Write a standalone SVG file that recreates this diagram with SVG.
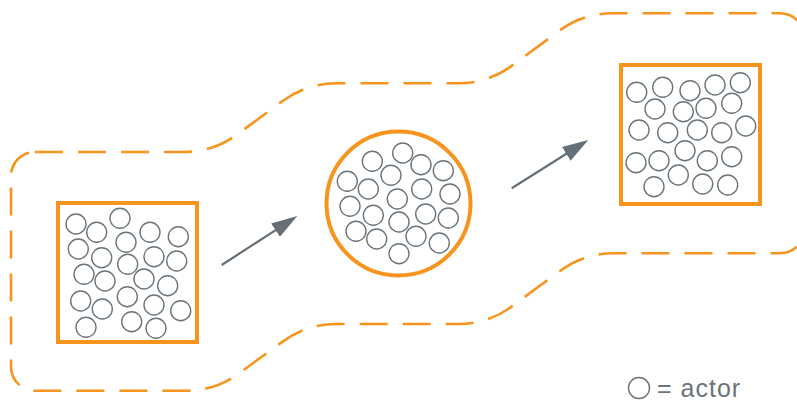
<svg xmlns="http://www.w3.org/2000/svg" width="797" height="401" viewBox="0 0 797 401">
<style>
.bound{fill:none;stroke:#F7941D;stroke-width:2.6;stroke-dasharray:28 15;stroke-linecap:butt}
.box{fill:#fff;stroke:#F7941D;stroke-width:4}
.a{fill:none;stroke:#6A747B;stroke-width:1.4}
.arrow{fill:none;stroke:#646F77;stroke-width:2.2;marker-end:url(#head)}
.lbl{font-family:"Liberation Sans",Arial,sans-serif;font-size:25px;letter-spacing:1px;fill:#6A747B}
</style>
<defs>
<marker id="head" markerUnits="userSpaceOnUse" markerWidth="26" markerHeight="16" viewBox="0 0 26 16" refX="2" refY="8" orient="auto">
<path d="M0,0 L26,8 L0,16 Z" fill="#646F77"/>
</marker>
</defs>
<g id="boundary">
<path class="bound" d="M35,152 H183.6 Q213.6,152 237.7,134.1 L282.3,101.2 Q306.4,83.3 336.4,83.3 H458.2 Q488.2,83.3 512.3,65.4 L558.7,31.2 Q582.8,13.3 612.8,13.3 H780 A25,25 0 0 1 805,38.3 V228.3 A25,25 0 0 1 780,253.3 H613.8 Q583.8,253.3 559.7,271.2 L512.3,306.1 Q488.2,324 458.2,324 H336.3 Q306.3,324 282.2,341.9 L239.8,372.8 Q215.7,390.7 185.7,390.7 H35 A24,24 0 0 1 11,366.7 V176 A24,24 0 0 1 35,152 Z"/>
</g>
<g id="connectors">
<line class="arrow" x1="221.7" y1="265" x2="277.2" y2="229.1"/>
<line class="arrow" x1="511.7" y1="188.3" x2="568" y2="152.8"/>
</g>
<g id="initial-group">
<rect class="box" x="58" y="203" width="139" height="139"/>
<circle class="a" cx="76" cy="224" r="10"/>
<circle class="a" cx="120" cy="218.3" r="10"/>
<circle class="a" cx="96.7" cy="232.3" r="10"/>
<circle class="a" cx="150" cy="232.3" r="10"/>
<circle class="a" cx="178.3" cy="236.7" r="10"/>
<circle class="a" cx="78.3" cy="249" r="10"/>
<circle class="a" cx="126" cy="242.3" r="10"/>
<circle class="a" cx="101.7" cy="257.7" r="10"/>
<circle class="a" cx="154" cy="256.7" r="10"/>
<circle class="a" cx="176.7" cy="261" r="10"/>
<circle class="a" cx="127.7" cy="264.3" r="10"/>
<circle class="a" cx="84" cy="274.3" r="10"/>
<circle class="a" cx="105" cy="281" r="10"/>
<circle class="a" cx="144" cy="279" r="10"/>
<circle class="a" cx="167.7" cy="285.7" r="10"/>
<circle class="a" cx="127.3" cy="296.7" r="10"/>
<circle class="a" cx="80.7" cy="301" r="10"/>
<circle class="a" cx="102.3" cy="309" r="10"/>
<circle class="a" cx="154" cy="305" r="10"/>
<circle class="a" cx="180.7" cy="310.7" r="10"/>
<circle class="a" cx="86" cy="327.3" r="10"/>
<circle class="a" cx="131.7" cy="321.7" r="10"/>
<circle class="a" cx="156" cy="328.3" r="10"/>
</g>
<g id="clustered-group">
<circle class="box" cx="398.5" cy="203.5" r="72"/>
<circle class="a" cx="402.7" cy="153" r="10"/>
<circle class="a" cx="372.3" cy="161.3" r="10"/>
<circle class="a" cx="421" cy="164.7" r="10"/>
<circle class="a" cx="391" cy="175.3" r="10"/>
<circle class="a" cx="443.3" cy="170.7" r="10"/>
<circle class="a" cx="347.3" cy="181.3" r="10"/>
<circle class="a" cx="368.3" cy="189" r="10"/>
<circle class="a" cx="421.7" cy="189" r="10"/>
<circle class="a" cx="450" cy="194" r="10"/>
<circle class="a" cx="397.3" cy="199" r="10"/>
<circle class="a" cx="350" cy="206.3" r="10"/>
<circle class="a" cx="373.3" cy="215.3" r="10"/>
<circle class="a" cx="425.7" cy="214" r="10"/>
<circle class="a" cx="448.3" cy="218" r="10"/>
<circle class="a" cx="399" cy="222" r="10"/>
<circle class="a" cx="356" cy="231.3" r="10"/>
<circle class="a" cx="376.7" cy="239" r="10"/>
<circle class="a" cx="416" cy="236.3" r="10"/>
<circle class="a" cx="439.3" cy="243" r="10"/>
<circle class="a" cx="399" cy="253.7" r="10"/>
</g>
<g id="final-group">
<rect class="box" x="621" y="65" width="139" height="139"/>
<circle class="a" cx="636.7" cy="92.3" r="10"/>
<circle class="a" cx="662.7" cy="87.3" r="10"/>
<circle class="a" cx="690" cy="90.7" r="10"/>
<circle class="a" cx="715" cy="85" r="10"/>
<circle class="a" cx="740.3" cy="82.7" r="10"/>
<circle class="a" cx="655" cy="109" r="10"/>
<circle class="a" cx="683.3" cy="111.7" r="10"/>
<circle class="a" cx="706" cy="108.3" r="10"/>
<circle class="a" cx="731.7" cy="103.3" r="10"/>
<circle class="a" cx="639" cy="130" r="10"/>
<circle class="a" cx="667.7" cy="132.7" r="10"/>
<circle class="a" cx="697.3" cy="130" r="10"/>
<circle class="a" cx="721.7" cy="132.7" r="10"/>
<circle class="a" cx="745.7" cy="126" r="10"/>
<circle class="a" cx="685" cy="150.7" r="10"/>
<circle class="a" cx="636" cy="162.7" r="10"/>
<circle class="a" cx="659" cy="160.7" r="10"/>
<circle class="a" cx="707.3" cy="160.7" r="10"/>
<circle class="a" cx="731.7" cy="156.7" r="10"/>
<circle class="a" cx="678.3" cy="175" r="10"/>
<circle class="a" cx="654" cy="186.7" r="10"/>
<circle class="a" cx="702.7" cy="184" r="10"/>
<circle class="a" cx="727.7" cy="185" r="10"/>
</g>
<g id="legend">
<circle class="a" cx="639" cy="388" r="10.5"/>
<text class="lbl" x="657" y="397">= actor</text>
</g>
</svg>
